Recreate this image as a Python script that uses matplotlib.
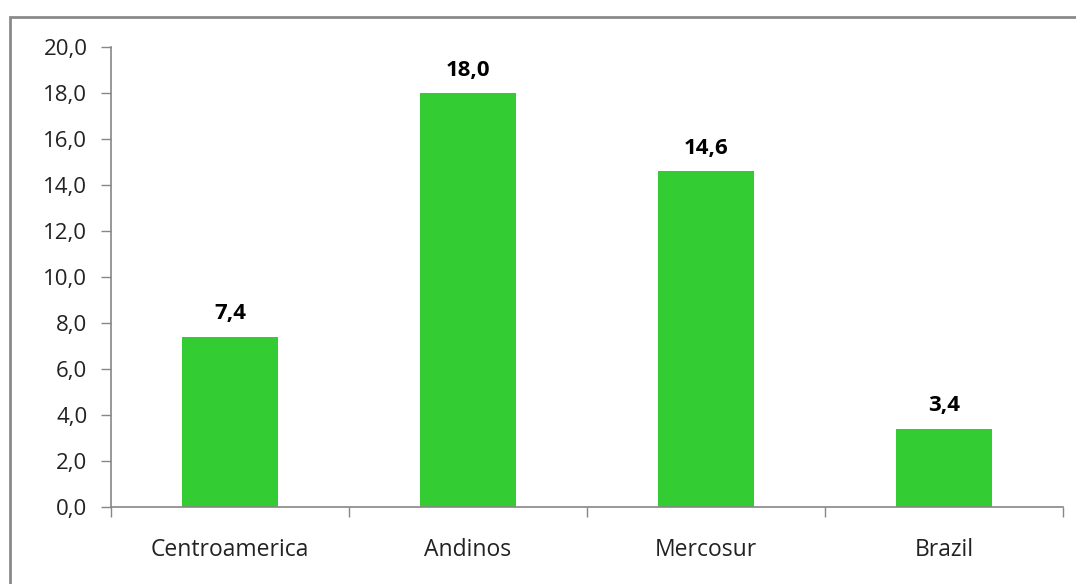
import matplotlib.pyplot as plt
from matplotlib.patches import Rectangle
from matplotlib.ticker import FixedLocator, FuncFormatter

regions = ['Centroamerica', 'Andinos', 'Mercosur', 'Brazil']
values = [7.4, 18.0, 14.6, 3.4]

plt.rcParams['font.family'] = ['Open Sans', 'DejaVu Sans']
grey = '#868686'

fig = plt.figure(figsize=(10.76, 5.84), dpi=100)
ax = fig.add_axes([0.1032, 0.1318, 0.8847, 0.7877])

x = range(len(regions))
bars = ax.bar(x, values, width=0.4, color='#33CC33')

for b, v in zip(bars, values):
    ax.annotate(f'{v:.1f}'.replace('.', ','),
                (b.get_x() + b.get_width() / 2, v),
                xytext=(0, 9), textcoords='offset points',
                ha='center', va='bottom', fontsize=16, fontweight='bold')

ax.set_xlim(-0.5, len(regions) - 0.5)
ax.set_ylim(0, 20)
ax.set_yticks([0, 2, 4, 6, 8, 10, 12, 14, 16, 18, 20])
ax.yaxis.set_major_formatter(FuncFormatter(lambda v, p: f'{v:.1f}'.replace('.', ',')))
ax.set_xticks(list(x))
ax.set_xticklabels(regions)
ax.xaxis.set_minor_locator(FixedLocator([i - 0.5 for i in range(len(regions) + 1)]))

ax.tick_params(axis='x', which='major', length=0, pad=22, labelsize=16.5, colors='#222222')
ax.tick_params(axis='x', which='minor', length=7, width=1, color=grey, direction='out')
ax.tick_params(axis='y', length=7, width=1, color=grey, direction='out', labelsize=16,
               labelcolor='#222222', pad=10)

for side in ['top', 'right']:
    ax.spines[side].set_visible(False)
for side in ['left', 'bottom']:
    ax.spines[side].set_color(grey)
    ax.spines[side].set_linewidth(1.2)

# outer chart frame, running off the right and bottom edges
fig.patches.append(Rectangle((9.5 / 1076, -0.05), 1.1, (567.5 / 584) + 0.05,
                             transform=fig.transFigure, fill=False,
                             edgecolor='#8a8a8a', linewidth=2, clip_on=False))

fig.savefig('out.png', dpi=100)
